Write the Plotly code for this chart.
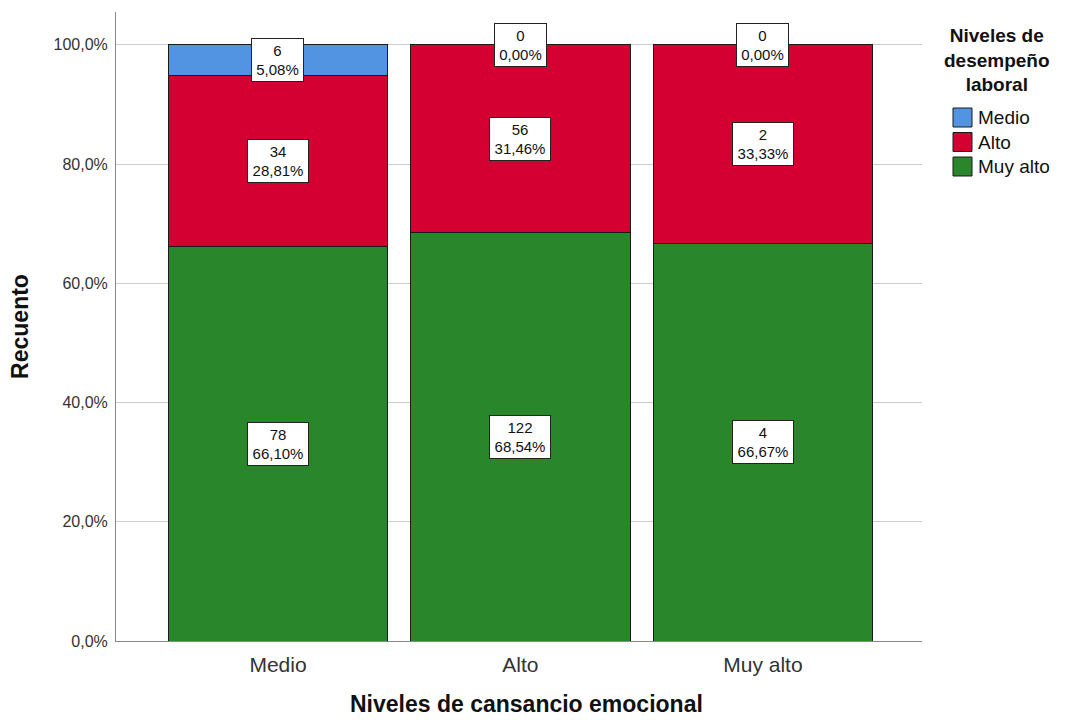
import plotly.graph_objects as go

# Stacked percentage bars: performance level within each emotional-exhaustion level
categories = ["Medio", "Alto", "Muy alto"]
series_names = ["Muy alto", "Alto", "Medio"]  # bottom to top
legend_order = ["Medio", "Alto", "Muy alto"]
percents = {
    "Muy alto": [66.10, 68.54, 66.67],
    "Alto": [28.81, 31.46, 33.33],
    "Medio": [5.08, 0.00, 0.00],
}
counts = {
    "Muy alto": [78, 122, 4],
    "Alto": [34, 56, 2],
    "Medio": [6, 0, 0],
}
colors = {
    "Medio": "#5294e2",
    "Alto": "#d40032",
    "Muy alto": "#2a862a",
}
y_ticks = [0, 20, 40, 60, 80, 100]

FONT = "Liberation Sans, Arial, sans-serif"
W, H = 1070, 720
L, R, T, B = 116, 148, 12, 79
PW, PH = W - L - R, H - T - B


def px(x):
    return (x - L) / PW


def py(y):
    return (H - B - y) / PH


fig = go.Figure()
for name in series_names:
    fig.add_trace(go.Bar(
        x=categories,
        y=percents[name],
        name=name,
        marker=dict(color=colors[name], line=dict(color="#1a1a1a", width=1)),
        width=0.905,
        hoverinfo="skip",
        showlegend=False,
    ))

# Value boxes centred in each segment (zero-height segments sit on the top edge)
for i, cat in enumerate(categories):
    base = 0.0
    for name in series_names:
        v = percents[name][i]
        mid = base + v / 2
        pct = f"{v:.2f}".replace(".", ",") + "%"
        fig.add_annotation(
            x=cat, y=mid, xref="x", yref="y",
            text=f"{counts[name][i]}<br>{pct}",
            showarrow=False,
            font=dict(family=FONT, size=15, color="#111111"),
            bgcolor="white", bordercolor="#222222", borderwidth=1, borderpad=1,
            width=9 * len(pct) + 4, height=40,
        )
        base += v

# X-axis title, kept just inside the bottom edge
fig.add_annotation(
    x=px(526), y=py(719), xref="paper", yref="paper",
    xanchor="center", yanchor="bottom",
    text="<b>Niveles de cansancio emocional</b>",
    showarrow=False,
    font=dict(family=FONT, size=23, color="#111111"),
)

# Legend: title plus square swatches
fig.add_annotation(
    x=px(997), y=py(60), xref="paper", yref="paper",
    xanchor="center", yanchor="middle",
    text="<b>Niveles de<br>desempeño<br>laboral</b>",
    showarrow=False,
    font=dict(family=FONT, size=19, color="#111111"),
)
for k, name in enumerate(legend_order):
    cy = 117.5 + 24.5 * k
    fig.add_shape(
        type="rect", xref="paper", yref="paper",
        x0=px(953), x1=px(972), y0=py(cy + 9.5), y1=py(cy - 9.5),
        fillcolor=colors[name], line=dict(color="#1a1a1a", width=1),
    )
    fig.add_annotation(
        x=px(976), y=py(cy), xref="paper", yref="paper",
        xanchor="left", yanchor="middle",
        text=name, showarrow=False,
        font=dict(family=FONT, size=19, color="#111111"),
    )

fig.update_layout(
    width=W, height=H,
    margin=dict(l=L, r=R, t=T, b=B, autoexpand=False),
    barmode="stack",
    plot_bgcolor="white", paper_bgcolor="white",
    separators=",.",
    font=dict(family=FONT, color="#222222"),
    showlegend=False,
    xaxis=dict(
        range=[-0.668, 2.656],
        automargin=False,
        showline=True, linecolor="#888888", linewidth=1,
        ticks="", ticklabelstandoff=5,
        tickfont=dict(family=FONT, size=21, color="#333333"),
        fixedrange=True,
    ),
    yaxis=dict(
        range=[0, 105.5],
        automargin=False,
        tickvals=y_ticks,
        ticktext=[f"{t:.1f}".replace(".", ",") + "%" for t in y_ticks],
        showgrid=True, gridcolor="#cccccc", gridwidth=1,
        showline=True, linecolor="#888888", linewidth=1,
        zeroline=False,
        ticks="", ticklabelstandoff=4,
        tickfont=dict(family=FONT, size=16, color="#333333"),
        title=dict(text="<b>Recuento</b>",
                   font=dict(family=FONT, size=23, color="#111111"), standoff=18),
        fixedrange=True,
    ),
)

fig.write_html("out.html")
